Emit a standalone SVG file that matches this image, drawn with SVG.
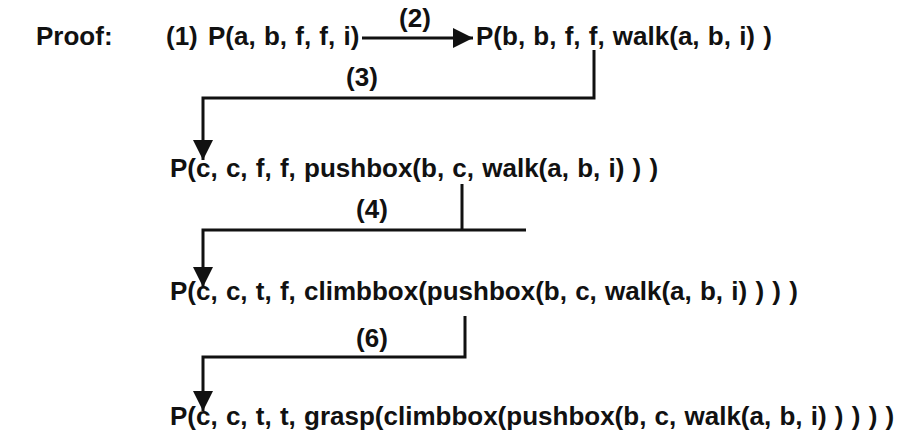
<svg xmlns="http://www.w3.org/2000/svg" width="911" height="437" viewBox="0 0 911 437">
  <style>
    .t { font-family: "Liberation Sans", Arial, sans-serif; font-weight: bold; font-size: 26px; fill: #111; }
    .f { word-spacing: 1px; }
    .lbl { text-anchor: middle; }
    .c { fill: none; stroke: #111; stroke-width: 3; stroke-linejoin: miter; }
  </style>
  <defs>
    <marker id="head" viewBox="0 0 20 20" refX="20" refY="10" markerWidth="20" markerHeight="20" markerUnits="userSpaceOnUse" orient="auto">
      <path d="M0,0 L20,10 L0,20 Z" fill="#111"/>
    </marker>
  </defs>

  <text class="t" x="36" y="45">Proof:</text>

  <g id="s1">
    <text class="t" x="166" y="45">(1)</text>
    <text class="t f" x="208" y="45">P(a, b, f, f, i)</text>
  </g>
  <g id="s2">
    <text class="t f" x="476" y="45">P(b, b, f, f, walk(a, b, i) )</text>
  </g>
  <g id="s3">
    <text class="t f" x="170" y="177">P(c, c, f, f, pushbox(b, c, walk(a, b, i) ) )</text>
  </g>
  <g id="s4">
    <text class="t f" x="170" y="300">P(c, c, t, f, climbbox(pushbox(b, c, walk(a, b, i) ) ) )</text>
  </g>
  <g id="s5">
    <text class="t f" x="170" y="425">P(c, c, t, t, grasp(climbbox(pushbox(b, c, walk(a, b, i) ) ) ) )</text>
  </g>

  <g id="connectors">
    <path class="c" d="M362,38 H473" marker-end="url(#head)"/>
    <path class="c" d="M594,50 V98 H203 V160" marker-end="url(#head)"/>
    <path class="c" d="M462,184 V230"/>
    <path class="c" d="M526,230 H203 V287" marker-end="url(#head)"/>
    <path class="c" d="M465,316 V357 H203 V411" marker-end="url(#head)"/>
    <text class="t lbl" x="415" y="27">(2)</text>
    <text class="t lbl" x="362" y="86">(3)</text>
    <text class="t lbl" x="372" y="218">(4)</text>
    <text class="t lbl" x="372" y="347">(6)</text>
  </g>
</svg>
